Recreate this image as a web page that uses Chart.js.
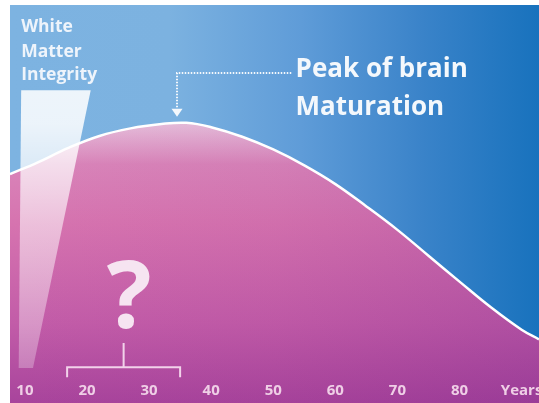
<!DOCTYPE html>
<html><head><meta charset="utf-8">
<script src="https://cdn.jsdelivr.net/npm/chart.js@4.4.1/dist/chart.umd.min.js"></script>
<style>html,body{margin:0;padding:0;background:#fff;}canvas{display:block;}</style>
</head><body>
<canvas id="c" width="539" height="403"></canvas>
<script>
// ---- data (age in years, relative white matter integrity) ----
const ages = [7.6, 12, 17, 22, 27, 32, 36, 40, 45, 50, 55, 60, 65, 70, 75, 80, 85, 90, 92.8];
const integrity = [57.5, 60.4, 64.1, 67.1, 69.0, 70.1, 70.4, 69.3, 66.9, 63.7, 59.7, 55.0, 49.4, 43.5, 37.0, 30.5, 24.1, 18.4, 16.0];
const tickValues = [10, 20, 30, 40, 50, 60, 70, 80, 90];
const tickLabels = ['10', '20', '30', '40', '50', '60', '70', '80', 'Years'];
const titleLines = ['White', 'Matter', 'Integrity'];
const peakLines = ['Peak of brain', 'Maturation'];
// wedge (y-axis symbol) corners
const wedgeAges = [9.4, 20.6, 11.3, 9.0];
const wedgeValues = [78.6, 78.6, 8.8, 8.8];
// annotation anchors in data units
const peakAge = 34.5;
const bracketAges = [16.8, 35.0];
const questionAge = 26.8;

const curve = ages.map((a, i) => ({x: a, y: integrity[i]}));
const wedge = wedgeAges.map((a, i) => ({x: a, y: wedgeValues[i]}));

function vGrad(ctx, area, stops) {
  const g = ctx.createLinearGradient(0, area.top, 0, area.bottom);
  stops.forEach(s => g.addColorStop(s[0], s[1]));
  return g;
}
function hGrad(ctx, area, stops) {
  const g = ctx.createLinearGradient(area.left, 0, area.right, 0);
  stops.forEach(s => g.addColorStop(s[0], s[1]));
  return g;
}

const bgPlugin = {
  id: 'bg',
  beforeDraw(chart) {
    const {ctx, chartArea: a} = chart;
    ctx.save();
    ctx.fillStyle = '#ffffff';
    ctx.fillRect(0, 0, chart.width, chart.height);
    ctx.fillStyle = hGrad(ctx, a, [[0, '#7db3e1'], [0.3, '#7cb2e0'], [0.55, '#5f9cd8'], [0.78, '#3a83c9'], [1, '#1872bd']]);
    ctx.fillRect(a.left, a.top, a.right - a.left, a.bottom - a.top);
    ctx.restore();
  }
};

const annoPlugin = {
  id: 'anno',
  afterDatasetsDraw(chart) {
    const {ctx, chartArea: a, scales: {x, y}} = chart;
    ctx.save();
    ctx.textBaseline = 'alphabetic';
    // y-axis title
    ctx.fillStyle = '#eef4fb';
    ctx.font = 'bold 17.5px "Open Sans"';
    ctx.textAlign = 'left';
    const tb = [93.2, 86.9, 81.2];
    titleLines.forEach((t, i) => ctx.fillText(t, x.getPixelForValue(9.4), y.getPixelForValue(tb[i])));
    // peak label
    ctx.fillStyle = '#f4f8fc';
    ctx.font = 'bold 26px "Open Sans"';
    const pb = [81.9, 72.4];
    peakLines.forEach((t, i) => ctx.fillText(t, x.getPixelForValue(53.6), y.getPixelForValue(pb[i])));
    // dotted arrow
    const px = x.getPixelForValue(peakAge);
    const hy = y.getPixelForValue(82.9);
    ctx.strokeStyle = '#f4f8fc';
    ctx.lineWidth = 2;
    ctx.setLineDash([1.5, 1.5]);
    ctx.beginPath();
    ctx.moveTo(x.getPixelForValue(52.9), hy);
    ctx.lineTo(px, hy);
    ctx.lineTo(px, y.getPixelForValue(74.3));
    ctx.stroke();
    ctx.setLineDash([]);
    const tip = y.getPixelForValue(71.9);
    ctx.fillStyle = '#f4f8fc';
    ctx.beginPath();
    ctx.moveTo(px - 5.5, tip - 8);
    ctx.lineTo(px + 5.5, tip - 8);
    ctx.lineTo(px, tip);
    ctx.closePath();
    ctx.fill();
    // question mark
    ctx.fillStyle = '#f6e4f1';
    ctx.font = 'bold 94px "Open Sans"';
    ctx.textAlign = 'center';
    ctx.fillText('?', x.getPixelForValue(questionAge), y.getPixelForValue(18.8));
    // bracket
    const bx0 = x.getPixelForValue(bracketAges[0]), bx1 = x.getPixelForValue(bracketAges[1]);
    const bm = x.getPixelForValue((bracketAges[0] + bracketAges[1]) / 2);
    const by = y.getPixelForValue(9.0), bt = y.getPixelForValue(6.5), bs = y.getPixelForValue(15.1);
    ctx.strokeStyle = '#f2d2ea';
    ctx.lineWidth = 2;
    ctx.beginPath();
    ctx.moveTo(bx0, bt); ctx.lineTo(bx0, by); ctx.lineTo(bx1, by); ctx.lineTo(bx1, bt);
    ctx.moveTo(bm, by); ctx.lineTo(bm, bs);
    ctx.stroke();
    // tick labels
    ctx.fillStyle = '#efcfe6';
    ctx.font = 'bold 15px "Open Sans"';
    tickValues.forEach((v, i) => ctx.fillText(tickLabels[i], x.getPixelForValue(v), a.bottom - 8));
    ctx.restore();
  }
};

new Chart(document.getElementById('c'), {
  type: 'line',
  data: {
    datasets: [
      {
        data: wedge, order: 1, fill: 'shape', borderWidth: 0, pointRadius: 0, tension: 0,
        backgroundColor: (c) => { const a = c.chart.chartArea; if (!a) return 'rgba(255,255,255,0.7)';
          return vGrad(c.chart.ctx, a, [[0, 'rgba(255,255,255,0.9)'], [0.3, 'rgba(255,255,255,0.85)'], [0.55, 'rgba(255,255,255,0.55)'], [1, 'rgba(255,255,255,0.2)']]); }
      },
      {
        data: curve, order: 2, fill: 'origin', borderColor: '#ffffff', borderWidth: 2.5, pointRadius: 0, tension: 0.4,
        backgroundColor: (c) => { const a = c.chart.chartArea; if (!a) return 'rgba(0,0,0,0)';
          return hGrad(c.chart.ctx, a, [[0, 'rgba(120,20,120,0)'], [0.5, 'rgba(110,20,120,0.05)'], [1, 'rgba(90,20,130,0.18)']]); }
      },
      {
        data: curve, order: 3, fill: 'origin', borderWidth: 0, pointRadius: 0, tension: 0.4,
        backgroundColor: (c) => { const a = c.chart.chartArea; if (!a) return '#d070b0';
          return vGrad(c.chart.ctx, a, [[0, '#f0dcea'], [0.29, '#e8c4de'], [0.4, '#d984b9'], [0.55, '#d673af'], [0.8, '#c25ca8'], [1, '#a8449c']]); }
      }
    ]
  },
  options: {
    responsive: false,
    devicePixelRatio: 1,
    animation: false,
    layout: {padding: {left: 10, top: 5, right: 0, bottom: 0}},
    plugins: {legend: {display: false}, tooltip: {enabled: false}},
    scales: {
      x: {type: 'linear', min: 7.6, max: 92.8, display: false},
      y: {min: 0, max: 100, display: false}
    }
  },
  plugins: [bgPlugin, annoPlugin]
});
</script>
</body></html>
